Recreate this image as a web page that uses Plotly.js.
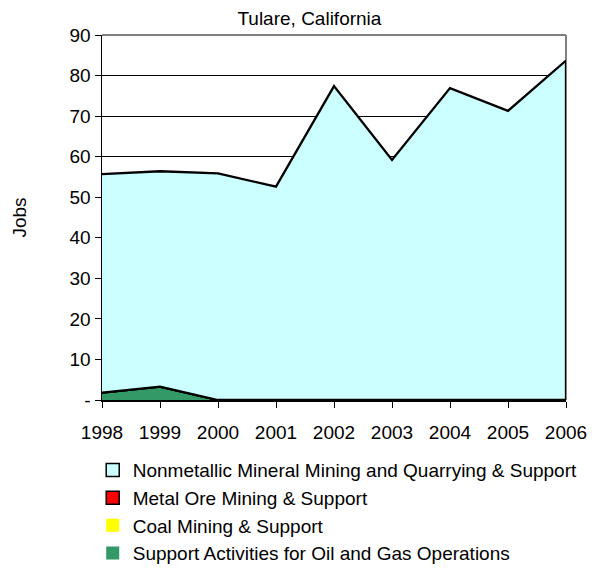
<!DOCTYPE html>
<html>
<head>
<meta charset="utf-8">
<script src="https://cdn.plot.ly/plotly-3.0.1.min.js"></script>
<style>html,body{margin:0;padding:0;background:#fff;}#chart{width:608px;height:584px;}</style>
</head>
<body>
<div id="chart"></div>
<script>
const years = [1998, 1999, 2000, 2001, 2002, 2003, 2004, 2005, 2006];
const nonmetallic = [53.9, 53.1, 55.9, 52.6, 77.4, 59.2, 76.9, 71.3, 83.7];
const metalOre = [0, 0, 0, 0, 0, 0, 0, 0, 0];
const coal = [0, 0, 0, 0, 0, 0, 0, 0, 0];
const oilGas = [1.8, 3.3, 0, 0, 0, 0, 0, 0, 0];
const seriesNames = [
  'Nonmetallic Mineral Mining and Quarrying & Support',
  'Metal Ore Mining & Support',
  'Coal Mining & Support',
  'Support Activities for Oil and Gas Operations'
];
const yTickVals = [0, 10, 20, 30, 40, 50, 60, 70, 80, 90];
const yTickText = ['-', '10', '20', '30', '40', '50', '60', '70', '80', '90'];

const fillColors = ['#CCFFFF', '#FF0000', '#FFFF00', '#339966'];
const legendBorders = ['#000000', '#000000', 'rgba(0,0,0,0)', 'rgba(0,0,0,0)'];
const seriesData = [nonmetallic, metalOre, coal, oilGas];

const data = [];
// stacked areas: bottom first
[3, 2, 1, 0].forEach(i => {
  data.push({
    type: 'scatter', x: years, y: seriesData[i], stackgroup: 'one',
    mode: 'lines', line: {color: '#000000', width: 2.3},
    fillcolor: fillColors[i], showlegend: false, hoverinfo: 'skip'
  });
});
// right vertical edge of the stacked area outline
const lastIdx = years.length - 1;
const lastTotal = seriesData.reduce((s, arr) => s + arr[lastIdx], 0);
data.push({
  type: 'scatter', x: [years[lastIdx], years[lastIdx]], y: [0, lastTotal], mode: 'lines',
  line: {color: '#000000', width: 2.3}, showlegend: false, hoverinfo: 'skip', cliponaxis: false
});
// legend entries
[0, 1, 2, 3].forEach(i => {
  data.push({
    type: 'scatter', x: [null], y: [null], mode: 'markers', name: seriesNames[i],
    marker: {symbol: 'square', size: 13, color: fillColors[i], line: {color: legendBorders[i], width: 1.5}},
    showlegend: true, hoverinfo: 'skip'
  });
});

const font = {family: 'Liberation Sans, Arial, sans-serif', color: '#000000'};
const layout = {
  width: 608, height: 584,
  margin: {l: 102, r: 42, t: 35, b: 184},
  paper_bgcolor: '#ffffff', plot_bgcolor: '#ffffff',
  font: Object.assign({size: 19}, font),
  title: {text: 'Tulare, California', font: Object.assign({size: 19}, font),
          xref: 'paper', x: 0.447, xanchor: 'center', yref: 'container', y: 0.969, yanchor: 'middle'},
  showlegend: true,
  legend: {x: -0.02, xanchor: 'left', y: -0.14, yanchor: 'top', orientation: 'v',
           font: Object.assign({size: 19}, font), traceorder: 'normal', bgcolor: 'rgba(0,0,0,0)'},
  xaxis: {range: [1998, 2006], tickmode: 'array', tickvals: years, ticktext: years.map(String),
          ticks: 'outside', ticklen: 6, tickcolor: '#000', tickwidth: 1,
          showline: true, linecolor: '#000', linewidth: 1.5, showgrid: false, zeroline: false,
          fixedrange: true, ticklabelstandoff: 9, tickfont: Object.assign({size: 19}, font)},
  yaxis: {range: [0, 90], tickmode: 'array', tickvals: yTickVals, ticktext: yTickText,
          ticks: 'outside', ticklen: 6, tickcolor: '#000', tickwidth: 1,
          showline: true, linecolor: '#000', linewidth: 1.5,
          showgrid: true, gridcolor: '#000000', gridwidth: 1, zeroline: false, fixedrange: true,
          tickfont: Object.assign({size: 19}, font),
          title: {text: 'Jobs', font: Object.assign({size: 19}, font), standoff: 38}},
  shapes: [
    {type: 'line', xref: 'paper', yref: 'paper', x0: 0, x1: 1, y0: 1, y1: 1, line: {color: '#808080', width: 2}, layer: 'above'},
    {type: 'line', xref: 'paper', yref: 'paper', x0: 1, x1: 1, y0: 0, y1: 1, line: {color: '#808080', width: 2}, layer: 'below'}
  ],
  hovermode: false
};
Plotly.newPlot('chart', data, layout, {displayModeBar: false, staticPlot: true});
</script>
</body>
</html>
